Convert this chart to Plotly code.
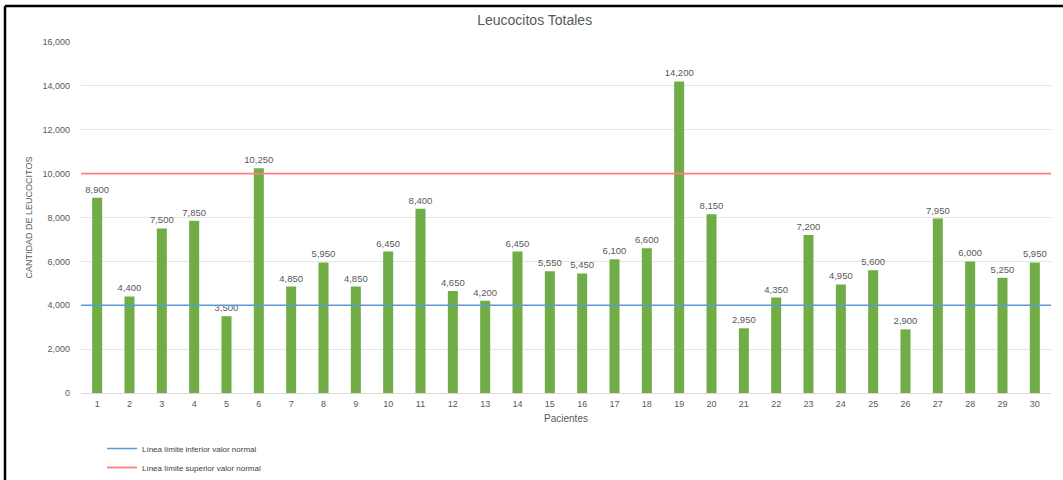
import plotly.graph_objects as go

pacientes = list(range(1, 31))
leucocitos = [8900, 4400, 7500, 7850, 3500, 10250, 4850, 5950, 4850, 6450,
              8400, 4650, 4200, 6450, 5550, 5450, 6100, 6600, 14200, 8150,
              2950, 4350, 7200, 4950, 5600, 2900, 7950, 6000, 5250, 5950]
limite_inferior = 4000
limite_superior = 10000
y_ticks = [0, 2000, 4000, 6000, 8000, 10000, 12000, 14000, 16000]

FONT = "Liberation Sans"
GRAY = "#595959"

# plot area in pixels
L, R, T, B = 81, 12, 42, 87
W, H = 1063, 480
PW, PH = W - L - R, H - T - B

def px_x(p):
    return (p - L) / PW

def px_y(p):
    return (H - B - p) / PH

fig = go.Figure()

fig.add_trace(go.Bar(
    x=pacientes, y=leucocitos,
    marker=dict(color="#70AD47", line=dict(width=0)),
    width=0.31,
    text=[f"{v:,}" for v in leucocitos],
    textposition="outside",
    constraintext="none",
    textfont=dict(family=FONT, size=9.5, color=GRAY),
    cliponaxis=False,
    showlegend=False,
))

x_span = [0.5, 30.6]
fig.add_trace(go.Scatter(
    x=x_span, y=[limite_inferior, limite_inferior], mode="lines",
    line=dict(color="#5B9BD5", width=1.5),
    name="Línea límite inferior valor normal",
))
fig.add_trace(go.Scatter(
    x=x_span, y=[limite_superior, limite_superior], mode="lines",
    line=dict(color="#FF7C80", width=1.8),
    name="Línea límite superior valor normal",
))

# frame (top and left edges)
fig.add_shape(type="line", xref="paper", yref="paper",
              x0=px_x(5), x1=px_x(1063), y0=px_y(6), y1=px_y(6),
              line=dict(color="black", width=2.5))
fig.add_shape(type="line", xref="paper", yref="paper",
              x0=px_x(5), x1=px_x(5), y0=px_y(6), y1=px_y(480),
              line=dict(color="black", width=2.5))

fig.update_layout(
    width=W, height=H,
    margin=dict(l=L, r=R, t=T, b=B, autoexpand=False),
    paper_bgcolor="white", plot_bgcolor="white",
    font=dict(family=FONT, color=GRAY),
    title=dict(text="Leucocitos Totales", x=0.503, xref="container",
               y=1 - 20 / H, yref="container", yanchor="middle", xanchor="center",
               font=dict(family=FONT, size=14, color=GRAY)),
    bargap=0.69,
    legend=dict(x=px_x(102), y=px_y(434), xanchor="left", yanchor="top",
                orientation="v", font=dict(family=FONT, size=8, color="#404040"),
                bgcolor="rgba(0,0,0,0)", tracegroupgap=6),
    xaxis=dict(range=[0.5, 30.5], tickmode="array", tickvals=pacientes,
               ticktext=[str(p) for p in pacientes],
               tickfont=dict(family=FONT, size=9, color=GRAY),
               showgrid=False, zeroline=False, showline=False, ticks="",
               ticklabelstandoff=4,
               title=dict(text="Pacientes", font=dict(family=FONT, size=10, color=GRAY),
                          standoff=6)),
    yaxis=dict(range=[0, 16000], tickmode="array", tickvals=y_ticks,
               tickformat=",", tickfont=dict(family=FONT, size=9, color=GRAY),
               showgrid=True, gridcolor="#E5E5E5", gridwidth=1,
               zeroline=True, zerolinecolor="#D9D9D9", zerolinewidth=1,
               showline=False, ticks="", ticklabelstandoff=10,
               title=dict(text="CANTIDAD DE LEUCOCITOS",
                          font=dict(family=FONT, size=9, color=GRAY), standoff=8)),
)

fig.write_html("out.html")
